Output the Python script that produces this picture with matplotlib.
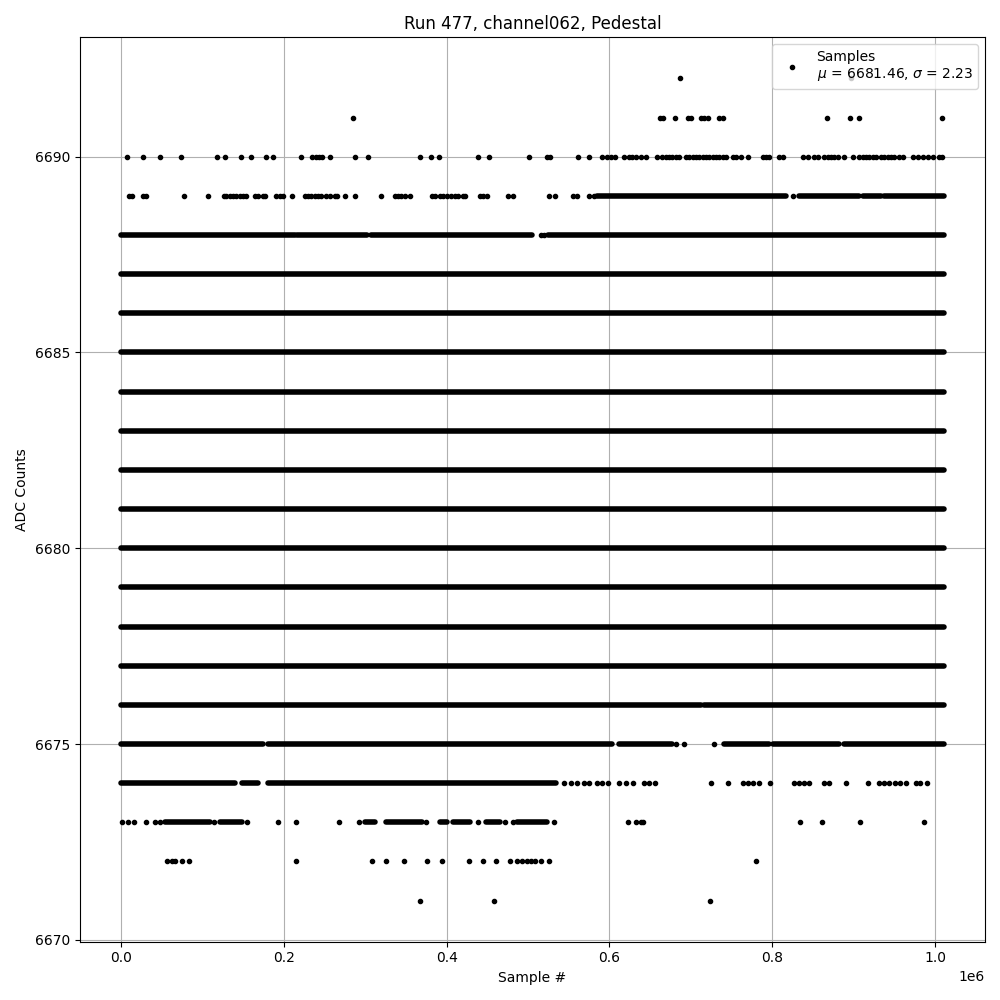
import matplotlib
matplotlib.use("Agg")
import matplotlib.pyplot as plt

# x values below are in millions of samples
UNIT = 1e6

title = "Run 477, channel062, Pedestal"
legend_label = "Samples\n$\\mu$ = 6681.46, $\\sigma$ = 2.23"
x_last = 1.0106

# ---- dense rows: (start, end) ranges where samples are continuous ----
dense_full_levels = [6677, 6678, 6679, 6680, 6681, 6682, 6683, 6684, 6685, 6686, 6687]
dense_6676 = [(0.0, 0.7122), (0.7162, x_last)]
dense_6688 = [(0.0, 0.2135), (0.2164, 0.3027), (0.3076, 0.5055), (0.5243, x_last)]
dense_6689 = [(0.5851, 0.8167), (0.8331, 0.9069), (0.9111, 0.9336), (0.9376, x_last)]
dense_6675 = [(0.0, 0.1750), (0.1812, 0.6035), (0.6117, 0.6773), (0.7409, 0.7962),
              (0.8003, 0.8823), (0.8885, x_last)]
dense_6674 = [(0.0, 0.1402), (0.1484, 0.1689), (0.1812, 0.5338)]
dense_6673 = [(0.0541, 0.1095), (0.1218, 0.1485), (0.3001, 0.3124), (0.3260, 0.3699),
              (0.3915, 0.4006), (0.4080, 0.4293), (0.4486, 0.4662), (0.4867, 0.5236)]

# ---- isolated samples ----
pts_6692 = [0.6867, 0.8967]
pts_6691 = [0.2857, 0.6621, 0.6663, 0.6806, 0.6966, 0.6999, 0.7122, 0.7162, 0.7204,
            0.7347, 0.7396, 0.8675, 0.8958, 0.9062, 1.0077]
pts_6690 = [0.0077, 0.0274, 0.0483, 0.0742, 0.1184, 0.1283, 0.1480, 0.1603, 0.1780,
            0.1873, 0.2218, 0.2353, 0.2399, 0.2439, 0.2469, 0.2574, 0.2870, 0.3030,
            0.3669, 0.3804, 0.3903, 0.4391, 0.4518, 0.5010,
            0.5228, 0.5268, 0.5613, 0.5748, 0.5913, 0.5966, 0.6015, 0.6064, 0.6178,
            0.6240, 0.6282, 0.6322, 0.6392, 0.6445, 0.6581, 0.6651, 0.6691, 0.6732,
            0.6774, 0.6814, 0.6855, 0.6937, 0.6978, 0.7020, 0.7060, 0.7101, 0.7143,
            0.7183, 0.7224, 0.7266, 0.7306, 0.7347, 0.7389, 0.7429, 0.7512, 0.7552,
            0.7614, 0.7704, 0.7881, 0.7921, 0.7962, 0.8085, 0.8127, 0.8373, 0.8434,
            0.8515, 0.8557, 0.8638, 0.8680, 0.8721, 0.8761, 0.8803, 0.8884, 0.8988,
            0.9069, 0.9111, 0.9151, 0.9192, 0.9234, 0.9274, 0.9336, 0.9376, 0.9418,
            0.9459, 0.9499, 0.9561, 0.9603, 0.9726, 0.9787, 0.9849, 0.9910, 0.9971,
            1.0041, 1.0082]
pts_6689 = [0.0102, 0.0139, 0.0274, 0.0307, 0.0777, 0.1071, 0.1264, 0.1297, 0.1337,
            0.1378, 0.1419, 0.1460, 0.1501, 0.1542, 0.1648, 0.1685, 0.1746, 0.1771,
            0.1910, 0.1951, 0.1992, 0.2102, 0.2258, 0.2298, 0.2340, 0.2380, 0.2421,
            0.2462, 0.2524, 0.2564, 0.2630, 0.2654, 0.2757, 0.2875, 0.3199, 0.3362,
            0.3403, 0.3444, 0.3485, 0.3546, 0.3820, 0.3853, 0.3914, 0.3955, 0.4009,
            0.4058, 0.4098, 0.4139, 0.4200, 0.4221, 0.4405, 0.4445, 0.4494, 0.4752,
            0.4814, 0.5256, 0.5326, 0.5556, 0.5605, 0.5748, 0.5810, 0.8250]
pts_6688 = [0.5162, 0.5202]
pts_6675 = [0.6814, 0.6917, 0.7278]
pts_6674 = [0.5440, 0.5523, 0.5605, 0.5686, 0.5748, 0.5851, 0.5913, 0.5982, 0.6117,
            0.6199, 0.6294, 0.6424, 0.6486, 0.6560, 0.7248, 0.7457, 0.7635, 0.7696,
            0.7765, 0.7831, 0.7974, 0.8269, 0.8331, 0.8392, 0.8454, 0.8638, 0.8692,
            0.8909, 0.9180, 0.9315, 0.9376, 0.9438, 0.9508, 0.9573, 0.9643, 0.9766,
            0.9807, 0.9902]
pts_6673 = [0.0009, 0.0090, 0.0164, 0.0304, 0.0418, 0.0480, 0.1148, 0.1554, 0.1935,
            0.2149, 0.2685, 0.2919, 0.3748, 0.4383, 0.4723, 0.4813, 0.5318, 0.6228,
            0.6326, 0.6384, 0.6417, 0.8343, 0.8606, 0.9081, 0.9868]
pts_6672 = [0.0562, 0.0624, 0.0664, 0.0747, 0.0840, 0.2149, 0.3079, 0.3260, 0.3481,
            0.3756, 0.3940, 0.4280, 0.4444, 0.4604, 0.4776, 0.4867, 0.4930, 0.4990,
            0.5040, 0.5090, 0.5154, 0.5256, 0.7802]
pts_6671 = [0.3670, 0.4580, 0.7236]

dense_rows = {lvl: [(0.0, x_last)] for lvl in dense_full_levels}
dense_rows.update({6676: dense_6676, 6688: dense_6688, 6689: dense_6689,
                   6675: dense_6675, 6674: dense_6674, 6673: dense_6673})
sparse_rows = {6692: pts_6692, 6691: pts_6691, 6690: pts_6690, 6689: pts_6689,
               6688: pts_6688, 6675: pts_6675, 6674: pts_6674, 6673: pts_6673,
               6672: pts_6672, 6671: pts_6671}

fig, ax = plt.subplots(figsize=(10, 10), dpi=100)

for lvl, segs in dense_rows.items():
    for a, b in segs:
        ax.plot([a * UNIT, b * UNIT], [lvl, lvl], color='black', lw=4.0,
                solid_capstyle='round')

xs, ys = [], []
for lvl, pts in sparse_rows.items():
    xs.extend(p * UNIT for p in pts)
    ys.extend([lvl] * len(pts))
ax.plot(xs, ys, '.', color='black', label=legend_label)

ax.set_xlim(-0.0505 * UNIT, 1.0611 * UNIT)
ax.set_ylim(6669.95, 6693.05)
ax.set_yticks([6670, 6675, 6680, 6685, 6690])
ax.grid(True)
ax.set_title(title)
ax.set_xlabel("Sample #")
ax.set_ylabel("ADC Counts")
ax.legend(loc='upper right')
fig.tight_layout()
fig.savefig("out.png", dpi=100)
